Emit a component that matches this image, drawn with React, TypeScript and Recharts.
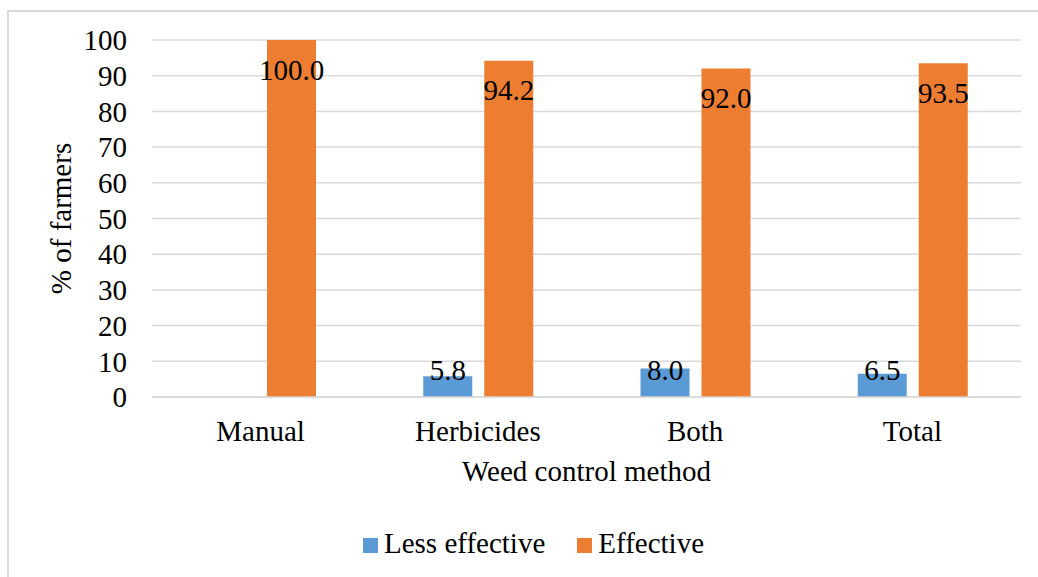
import React from 'react';
import { BarChart, Bar, XAxis, YAxis, CartesianGrid, Legend, LabelList } from 'recharts';

const categories = ['Manual', 'Herbicides', 'Both', 'Total'];
const lessEffective: (number | null)[] = [null, 5.8, 8.0, 6.5];
const effective: number[] = [100.0, 94.2, 92.0, 93.5];
const yTicks = [0, 10, 20, 30, 40, 50, 60, 70, 80, 90, 100];
const seriesNames = ['Less effective', 'Effective'];
const seriesColors = ['#5B9BD5', '#ED7D31'];

const data = categories.map((c, i) => ({
  category: c,
  less: lessEffective[i],
  eff: effective[i],
}));

const FONT = '"Liberation Serif", "Times New Roman", serif';
const FS = 29;

const DataLabel = (props: any) => {
  const { value } = props;
  if (value === null || value === undefined) return null;
  const x = props.x ?? props.viewBox?.x;
  const y = props.y ?? props.viewBox?.y;
  const width = props.width ?? props.viewBox?.width;
  const height = props.height ?? props.viewBox?.height;
  const baseline = Math.min(y + 39.5, y + height - 17.5);
  return (
    <text x={x + width / 2} y={baseline} textAnchor="middle" fontFamily={FONT} fontSize={FS} fill="#000">
      {Number(value).toFixed(1)}
    </text>
  );
};

const YLabel = (props: any) => {
  const vb = props.viewBox || {};
  const cx = (vb.x ?? 0) + 70.5;
  const cy = (vb.y ?? 0) + (vb.height ?? 0) / 2;
  return (
    <text x={cx} y={cy} transform={`rotate(-90 ${cx} ${cy})`} textAnchor="middle" fontFamily={FONT} fontSize={FS} fill="#000">
      % of farmers
    </text>
  );
};

const XLabel = (props: any) => {
  const vb = props.viewBox || {};
  const cx = (vb.x ?? 0) + (vb.width ?? 0) / 2;
  const cy = (vb.y ?? 0) + 84;
  return (
    <text x={cx} y={cy} textAnchor="middle" fontFamily={FONT} fontSize={FS} fill="#000">
      Weed control method
    </text>
  );
};

const LegendContent = () => (
  <div
    style={{
      height: 40,
      lineHeight: '40px',
      whiteSpace: 'nowrap',
      paddingLeft: 363,
      fontFamily: FONT,
      fontSize: FS,
      color: '#000',
      textAlign: 'left',
    }}
  >
    {seriesNames.map((n, i) => (
      <span key={n} style={{ marginRight: i === 0 ? 32 : 0 }}>
        <span
          style={{
            display: 'inline-block',
            width: 15,
            height: 15,
            background: seriesColors[i],
            verticalAlign: 'baseline',
            marginRight: 6,
          }}
        />
        <span>{n}</span>
      </span>
    ))}
  </div>
);

export default function App() {
  return (
    <div>
      <div
        style={{
          position: 'absolute',
          left: 7,
          top: 10,
          width: 1031,
          height: 567,
          borderLeft: '2px solid #d9d9d9',
          borderTop: '2px solid #d9d9d9',
          boxSizing: 'border-box',
        }}
      />
      <div style={{ position: 'absolute', left: 0, top: 0, width: 1038, height: 577 }}>
        <BarChart
          width={1038}
          height={577}
          data={data}
          margin={{ top: 40, right: 17, left: 0, bottom: 50 }}
          barSize={49}
          barGap={12}
          style={{ fontFamily: FONT }}
        >
          <CartesianGrid vertical={false} stroke="#d9d9d9" strokeWidth={1.5} />
          <XAxis
            dataKey="category"
            interval={0}
            height={90}
            tickLine={false}
            tickSize={0}
            tickMargin={23}
            axisLine={{ stroke: '#d9d9d9', strokeWidth: 1.5 }}
            tick={{ fontSize: FS, fill: '#000', fontFamily: FONT }}
            label={<XLabel />}
          />
          <YAxis
            domain={[0, 100]}
            ticks={yTicks}
            interval={0}
            width={152}
            axisLine={false}
            tickLine={false}
            tickSize={0}
            tickMargin={25}
            tick={{ fontSize: FS, fill: '#000', fontFamily: FONT }}
            label={<YLabel />}
          />
          <Legend
            verticalAlign="bottom"
            content={<LegendContent />}
            wrapperStyle={{ top: 523, left: 0, width: 1038, height: 40 }}
          />
          <Bar dataKey="less" name={seriesNames[0]} fill={seriesColors[0]} isAnimationActive={false}>
            <LabelList dataKey="less" content={<DataLabel />} />
          </Bar>
          <Bar dataKey="eff" name={seriesNames[1]} fill={seriesColors[1]} isAnimationActive={false}>
            <LabelList dataKey="eff" content={<DataLabel />} />
          </Bar>
        </BarChart>
      </div>
    </div>
  );
}
